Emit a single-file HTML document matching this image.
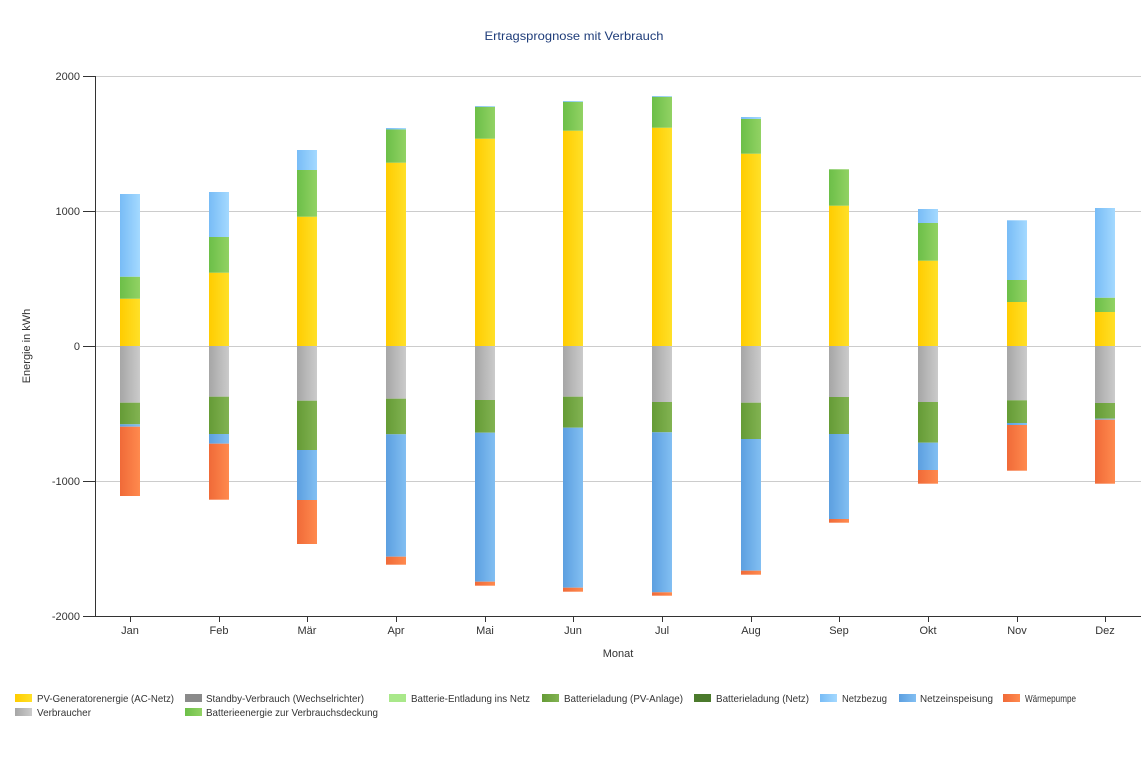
<!DOCTYPE html>
<html><head><meta charset="utf-8"><style>
html,body{margin:0;padding:0;background:#fff;}
svg{display:block;font-family:"Liberation Sans",Tahoma,sans-serif;}
</style></head><body>
<svg width="1141" height="766" viewBox="0 0 1141 766" xmlns="http://www.w3.org/2000/svg">
<defs>
<linearGradient id="gY" x1="0" x2="1" y1="0" y2="0"><stop offset="0" stop-color="#ffcc00"/><stop offset="1" stop-color="#ffe028"/></linearGradient>
<linearGradient id="gG" x1="0" x2="1" y1="0" y2="0"><stop offset="0" stop-color="#a6a6a6"/><stop offset="1" stop-color="#cbcbcb"/></linearGradient>
<linearGradient id="gLG" x1="0" x2="1" y1="0" y2="0"><stop offset="0" stop-color="#6cbf48"/><stop offset="1" stop-color="#92d264"/></linearGradient>
<linearGradient id="gDG" x1="0" x2="1" y1="0" y2="0"><stop offset="0" stop-color="#659b36"/><stop offset="1" stop-color="#82b352"/></linearGradient>
<linearGradient id="gLB" x1="0" x2="1" y1="0" y2="0"><stop offset="0" stop-color="#78bcf6"/><stop offset="1" stop-color="#a4d9ff"/></linearGradient>
<linearGradient id="gB" x1="0" x2="1" y1="0" y2="0"><stop offset="0" stop-color="#5c9fe0"/><stop offset="1" stop-color="#82bff2"/></linearGradient>
<linearGradient id="gO" x1="0" x2="1" y1="0" y2="0"><stop offset="0" stop-color="#f06a38"/><stop offset="1" stop-color="#ff8a4e"/></linearGradient>
</defs>

<text x="574" y="40" text-anchor="middle" font-size="12" fill="#1f3d7a" textLength="179" lengthAdjust="spacingAndGlyphs">Ertragsprognose mit Verbrauch</text>

<!-- grid -->
<g stroke="#cccccc" stroke-width="1">
<line x1="95" y1="76.5" x2="1141" y2="76.5"/>
<line x1="95" y1="211.5" x2="1141" y2="211.5"/>
<line x1="95" y1="346.5" x2="1141" y2="346.5"/>
<line x1="95" y1="481.5" x2="1141" y2="481.5"/>
</g>

<!-- bars -->
<g id="bars">
<!-- Jan -->
<rect x="120" y="298.7" width="20" height="47.3" fill="url(#gY)"/>
<rect x="120" y="276.7" width="20" height="22" fill="url(#gLG)"/>
<rect x="120" y="194" width="20" height="82.7" fill="url(#gLB)"/>
<rect x="120" y="346" width="20" height="56.7" fill="url(#gG)"/>
<rect x="120" y="402.7" width="20" height="21.6" fill="url(#gDG)"/>
<rect x="120" y="424.3" width="20" height="2.4" fill="url(#gB)"/>
<rect x="120" y="426.7" width="20" height="69.3" fill="url(#gO)"/>
<!-- Feb -->
<rect x="209" y="272.7" width="20" height="73.3" fill="url(#gY)"/>
<rect x="209" y="237" width="20" height="35.7" fill="url(#gLG)"/>
<rect x="209" y="192" width="20" height="45" fill="url(#gLB)"/>
<rect x="209" y="346" width="20" height="50.7" fill="url(#gG)"/>
<rect x="209" y="396.7" width="20" height="37.3" fill="url(#gDG)"/>
<rect x="209" y="434" width="20" height="9.7" fill="url(#gB)"/>
<rect x="209" y="443.7" width="20" height="56" fill="url(#gO)"/>
<!-- Mar -->
<rect x="297" y="216.7" width="20" height="129.3" fill="url(#gY)"/>
<rect x="297" y="170" width="20" height="46.7" fill="url(#gLG)"/>
<rect x="297" y="150" width="20" height="20" fill="url(#gLB)"/>
<rect x="297" y="346" width="20" height="54.7" fill="url(#gG)"/>
<rect x="297" y="400.7" width="20" height="49.3" fill="url(#gDG)"/>
<rect x="297" y="450" width="20" height="50" fill="url(#gB)"/>
<rect x="297" y="500" width="20" height="44" fill="url(#gO)"/>
<!-- Apr -->
<rect x="386" y="162.7" width="20" height="183.3" fill="url(#gY)"/>
<rect x="386" y="129.5" width="20" height="33.2" fill="url(#gLG)"/>
<rect x="386" y="128" width="20" height="1.5" fill="url(#gLB)"/>
<rect x="386" y="346" width="20" height="52.7" fill="url(#gG)"/>
<rect x="386" y="398.7" width="20" height="35.6" fill="url(#gDG)"/>
<rect x="386" y="434.3" width="20" height="122.4" fill="url(#gB)"/>
<rect x="386" y="556.7" width="20" height="8" fill="url(#gO)"/>
<!-- May -->
<rect x="475" y="138.7" width="20" height="207.3" fill="url(#gY)"/>
<rect x="475" y="106.8" width="20" height="31.9" fill="url(#gLG)"/>
<rect x="475" y="106" width="20" height="0.8" fill="url(#gLB)"/>
<rect x="475" y="346" width="20" height="54" fill="url(#gG)"/>
<rect x="475" y="400" width="20" height="32.7" fill="url(#gDG)"/>
<rect x="475" y="432.7" width="20" height="149" fill="url(#gB)"/>
<rect x="475" y="581.7" width="20" height="4" fill="url(#gO)"/>
<!-- Jun -->
<rect x="563" y="130.7" width="20" height="215.3" fill="url(#gY)"/>
<rect x="563" y="101.8" width="20" height="28.9" fill="url(#gLG)"/>
<rect x="563" y="101" width="20" height="0.8" fill="url(#gLB)"/>
<rect x="563" y="346" width="20" height="50.7" fill="url(#gG)"/>
<rect x="563" y="396.7" width="20" height="31" fill="url(#gDG)"/>
<rect x="563" y="427.7" width="20" height="160" fill="url(#gB)"/>
<rect x="563" y="587.7" width="20" height="4" fill="url(#gO)"/>
<!-- Jul -->
<rect x="652" y="127.7" width="20" height="218.3" fill="url(#gY)"/>
<rect x="652" y="96.8" width="20" height="30.9" fill="url(#gLG)"/>
<rect x="652" y="96" width="20" height="0.8" fill="url(#gLB)"/>
<rect x="652" y="346" width="20" height="56" fill="url(#gG)"/>
<rect x="652" y="402" width="20" height="30.3" fill="url(#gDG)"/>
<rect x="652" y="432.3" width="20" height="160" fill="url(#gB)"/>
<rect x="652" y="592.3" width="20" height="3.4" fill="url(#gO)"/>
<!-- Aug -->
<rect x="741" y="153.7" width="20" height="192.3" fill="url(#gY)"/>
<rect x="741" y="119" width="20" height="34.7" fill="url(#gLG)"/>
<rect x="741" y="117" width="20" height="2" fill="url(#gLB)"/>
<rect x="741" y="346" width="20" height="56.7" fill="url(#gG)"/>
<rect x="741" y="402.7" width="20" height="36.3" fill="url(#gDG)"/>
<rect x="741" y="439" width="20" height="131.7" fill="url(#gB)"/>
<rect x="741" y="570.7" width="20" height="4" fill="url(#gO)"/>
<!-- Sep -->
<rect x="829" y="205.7" width="20" height="140.3" fill="url(#gY)"/>
<rect x="829" y="169.3" width="20" height="36.4" fill="url(#gLG)"/>
<rect x="829" y="346" width="20" height="51" fill="url(#gG)"/>
<rect x="829" y="397" width="20" height="37" fill="url(#gDG)"/>
<rect x="829" y="434" width="20" height="85" fill="url(#gB)"/>
<rect x="829" y="519" width="20" height="3.7" fill="url(#gO)"/>
<!-- Oct -->
<rect x="918" y="260.7" width="20" height="85.3" fill="url(#gY)"/>
<rect x="918" y="223" width="20" height="37.7" fill="url(#gLG)"/>
<rect x="918" y="209" width="20" height="14" fill="url(#gLB)"/>
<rect x="918" y="346" width="20" height="56" fill="url(#gG)"/>
<rect x="918" y="402" width="20" height="40.7" fill="url(#gDG)"/>
<rect x="918" y="442.7" width="20" height="27.3" fill="url(#gB)"/>
<rect x="918" y="470" width="20" height="13.7" fill="url(#gO)"/>
<!-- Nov -->
<rect x="1007" y="302" width="20" height="44" fill="url(#gY)"/>
<rect x="1007" y="280" width="20" height="22" fill="url(#gLG)"/>
<rect x="1007" y="220.3" width="20" height="59.7" fill="url(#gLB)"/>
<rect x="1007" y="346" width="20" height="54.3" fill="url(#gG)"/>
<rect x="1007" y="400.3" width="20" height="22.7" fill="url(#gDG)"/>
<rect x="1007" y="423" width="20" height="2" fill="url(#gB)"/>
<rect x="1007" y="425" width="20" height="45.7" fill="url(#gO)"/>
<!-- Dec -->
<rect x="1095" y="312" width="20" height="34" fill="url(#gY)"/>
<rect x="1095" y="297.7" width="20" height="14.3" fill="url(#gLG)"/>
<rect x="1095" y="208" width="20" height="89.7" fill="url(#gLB)"/>
<rect x="1095" y="346" width="20" height="57" fill="url(#gG)"/>
<rect x="1095" y="403" width="20" height="15.7" fill="url(#gDG)"/>
<rect x="1095" y="418.7" width="20" height="1" fill="url(#gB)"/>
<rect x="1095" y="419.7" width="20" height="64" fill="url(#gO)"/>
</g>

<!-- axes -->
<g stroke="#333" stroke-width="1">
<line x1="95.5" y1="76" x2="95.5" y2="616.5"/>
<line x1="95" y1="616.5" x2="1141" y2="616.5"/>
<line x1="83" y1="76.5" x2="95" y2="76.5"/>
<line x1="83" y1="211.5" x2="95" y2="211.5"/>
<line x1="83" y1="346.5" x2="95" y2="346.5"/>
<line x1="83" y1="481.5" x2="95" y2="481.5"/>
<line x1="83" y1="616.5" x2="95" y2="616.5"/>
<line x1="130.5" y1="616" x2="130.5" y2="622"/>
<line x1="219.5" y1="616" x2="219.5" y2="622"/>
<line x1="307.5" y1="616" x2="307.5" y2="622"/>
<line x1="396.5" y1="616" x2="396.5" y2="622"/>
<line x1="485.5" y1="616" x2="485.5" y2="622"/>
<line x1="573.5" y1="616" x2="573.5" y2="622"/>
<line x1="662.5" y1="616" x2="662.5" y2="622"/>
<line x1="751.5" y1="616" x2="751.5" y2="622"/>
<line x1="839.5" y1="616" x2="839.5" y2="622"/>
<line x1="928.5" y1="616" x2="928.5" y2="622"/>
<line x1="1017.5" y1="616" x2="1017.5" y2="622"/>
<line x1="1105.5" y1="616" x2="1105.5" y2="622"/>
</g>

<g font-size="11" fill="#333" text-anchor="end">
<text x="80" y="80">2000</text>
<text x="80" y="215">1000</text>
<text x="80" y="350">0</text>
<text x="80" y="485">-1000</text>
<text x="80" y="620">-2000</text>
</g>
<g font-size="11" fill="#333" text-anchor="middle">
<text x="130" y="634">Jan</text>
<text x="219" y="634">Feb</text>
<text x="307" y="634">Mär</text>
<text x="396" y="634">Apr</text>
<text x="485" y="634">Mai</text>
<text x="573" y="634">Jun</text>
<text x="662" y="634">Jul</text>
<text x="751" y="634">Aug</text>
<text x="839" y="634">Sep</text>
<text x="928" y="634">Okt</text>
<text x="1017" y="634">Nov</text>
<text x="1105" y="634">Dez</text>
<text x="618" y="657">Monat</text>
<text transform="translate(30,346) rotate(-90)">Energie in kWh</text>
</g>

<!-- legend -->
<g font-size="10.5" fill="#333">
<rect x="15" y="694" width="17" height="8" fill="url(#gY)"/>
<text x="37" y="702" textLength="137" lengthAdjust="spacingAndGlyphs">PV-Generatorenergie (AC-Netz)</text>
<rect x="185" y="694" width="17" height="8" fill="#8a8a8a"/>
<text x="206" y="702" textLength="158" lengthAdjust="spacingAndGlyphs">Standby-Verbrauch (Wechselrichter)</text>
<rect x="389" y="694" width="17" height="8" fill="#a9e88a"/>
<text x="411" y="702" textLength="119" lengthAdjust="spacingAndGlyphs">Batterie-Entladung ins Netz</text>
<rect x="542" y="694" width="17" height="8" fill="url(#gDG)"/>
<text x="564" y="702" textLength="119" lengthAdjust="spacingAndGlyphs">Batterieladung (PV-Anlage)</text>
<rect x="694" y="694" width="17" height="8" fill="#4b7a2c"/>
<text x="716" y="702" textLength="93" lengthAdjust="spacingAndGlyphs">Batterieladung (Netz)</text>
<rect x="820" y="694" width="17" height="8" fill="url(#gLB)"/>
<text x="842" y="702" textLength="45" lengthAdjust="spacingAndGlyphs">Netzbezug</text>
<rect x="899" y="694" width="17" height="8" fill="url(#gB)"/>
<text x="920" y="702" textLength="73" lengthAdjust="spacingAndGlyphs">Netzeinspeisung</text>
<rect x="1003" y="694" width="17" height="8" fill="url(#gO)"/>
<text x="1025" y="702" textLength="51" lengthAdjust="spacingAndGlyphs">Wärmepumpe</text>
<rect x="15" y="708" width="17" height="8" fill="url(#gG)"/>
<text x="37" y="716" textLength="54" lengthAdjust="spacingAndGlyphs">Verbraucher</text>
<rect x="185" y="708" width="17" height="8" fill="url(#gLG)"/>
<text x="206" y="716" textLength="172" lengthAdjust="spacingAndGlyphs">Batterieenergie zur Verbrauchsdeckung</text>
</g>
</svg>
</body></html>
